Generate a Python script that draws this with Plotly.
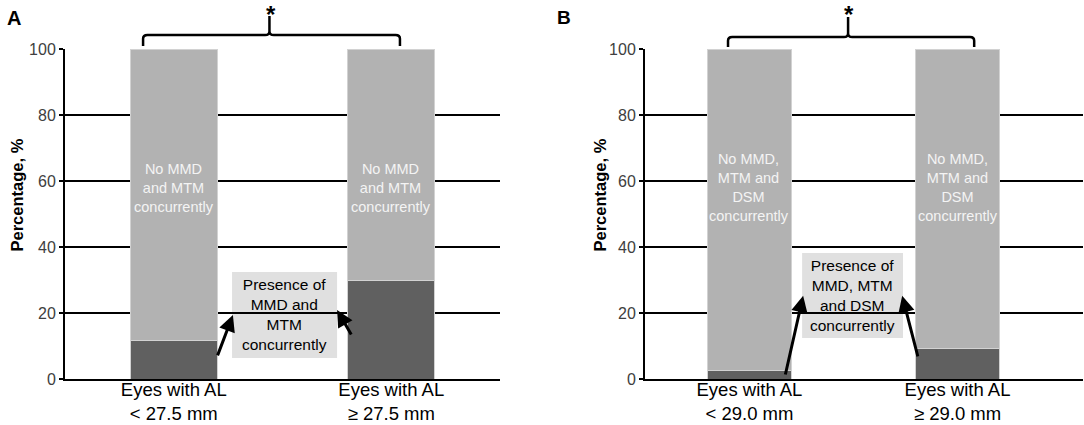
import plotly.graph_objects as go

# ---------------- data ----------------
categories_A = ["Eyes with AL<br>< 27.5 mm", "Eyes with AL<br>≥ 27.5 mm"]
presence_A = [11.8, 29.9]
absence_A = [88.2, 70.1]

categories_B = ["Eyes with AL<br>< 29.0 mm", "Eyes with AL<br>≥ 29.0 mm"]
presence_B = [2.7, 9.1]
absence_B = [97.3, 90.9]

bar_text_A = "No MMD<br>and MTM<br>concurrently"
bar_text_B = "No MMD,<br>MTM and<br>DSM<br>concurrently"
box_text_A = "Presence of<br>MMD and<br>MTM<br>concurrently"
box_text_B = "Presence of<br>MMD, MTM<br>and DSM<br>concurrently"
y_ticks = [0, 20, 40, 60, 80, 100]

FONT = "Arial, Liberation Sans, sans-serif"
DARK = "#606060"
LIGHT = "#b2b2b2"
EDGE = "#d2d2d2"

W, H = 1084, 425
fig = go.Figure()

for cats, pres, absn, xa, ya in [
    (categories_A, presence_A, absence_A, "x", "y"),
    (categories_B, presence_B, absence_B, "x2", "y2"),
]:
    fig.add_trace(go.Bar(x=cats, y=pres, marker=dict(color=DARK, line=dict(color=EDGE, width=1)),
                         width=0.4, xaxis=xa, yaxis=ya, showlegend=False, hoverinfo="skip"))
    fig.add_trace(go.Bar(x=cats, y=absn, marker=dict(color=LIGHT, line=dict(color=EDGE, width=1)),
                         width=0.4, xaxis=xa, yaxis=ya, showlegend=False, hoverinfo="skip"))

ydom = [1 - 379 / H, 1 - 49 / H]
axis_common = dict(showgrid=False, showline=True, linecolor="black", linewidth=2,
                   ticks="", tickfont=dict(family=FONT, size=18.5, color="black"),
                   ticklabelstandoff=-7,
                   type="category", fixedrange=True, automargin=False)
yaxis_common = dict(range=[0, 100], tickvals=y_ticks, showgrid=True, gridcolor="black",
                    gridwidth=2, zeroline=False, showline=True, linecolor="black", linewidth=2,
                    ticks="outside", ticklen=4, tickwidth=2, tickcolor="black",
                    tickfont=dict(family=FONT, size=16, color="#404040"), fixedrange=True,
                    automargin=False)

fig.update_layout(
    width=W, height=H, margin=dict(l=0, r=0, t=0, b=0, autoexpand=False),
    paper_bgcolor="white", plot_bgcolor="white", barmode="stack",
    xaxis=dict(domain=[65 / W, 500 / W], range=[-0.5, 1.5], anchor="y", **axis_common),
    yaxis=dict(domain=ydom, anchor="x", **yaxis_common),
    xaxis2=dict(domain=[645 / W, 1083 / W], range=[-0.502, 1.603], anchor="y2", **axis_common),
    yaxis2=dict(domain=ydom, anchor="x2", **yaxis_common),
)

shapes = []
annotations = []

# boxes for "Presence of ..." (below gridlines)
for xr, yr, x0, x1, y0, y1 in [("x", "y", 0.268, 0.751, 6.4, 32.4), ("x2", "y2", 0.253, 0.738, 12.4, 38.2)]:
    shapes.append(dict(type="rect", xref=xr, yref=yr, x0=x0, x1=x1, y0=y0, y1=y1,
                       fillcolor="#e0e0e0", line=dict(width=0), layer="below"))

# box texts
annotations.append(dict(xref="x", yref="y", x=0.51, y=19.4, text=box_text_A, showarrow=False,
                        font=dict(family=FONT, size=15.5, color="black")))
annotations.append(dict(xref="x2", yref="y2", x=0.495, y=25.3, text=box_text_B, showarrow=False,
                        font=dict(family=FONT, size=15.5, color="black")))

# bar texts
for xr, yr, txt in [("x", "y", bar_text_A), ("x2", "y2", bar_text_B)]:
    for i in range(2):
        annotations.append(dict(xref=xr, yref=yr, x=i, y=58, text=txt, showarrow=False,
                                font=dict(family=FONT, size=14.5, color="#f4f4f4")))

# arrows
for xr, yr, tip, tail in [
    ("x", "y", (0.272, 19.4), (0.199, 6.7)),
    ("x", "y", (0.751, 20.9), (0.820, 13.0)),
    ("x2", "y2", (0.258, 25.2), (0.171, 0.9)),
    ("x2", "y2", (0.734, 25.2), (0.811, 6.4)),
]:
    annotations.append(dict(xref=xr, yref=yr, axref=xr, ayref=yr, x=tip[0], y=tip[1],
                            ax=tail[0], ay=tail[1], text="", showarrow=True,
                            arrowhead=2, arrowsize=1.1, arrowwidth=3, arrowcolor="black"))

# brackets
def bracket(xr, x0, xm, x1, yb, yh, yt, dx, dy):
    path = (f"M {x0},{yb} L {x0},{yh - dy} Q {x0},{yh} {x0 + dx},{yh} "
            f"L {xm - dx},{yh} Q {xm},{yh} {xm},{yh + dy} L {xm},{yt} "
            f"M {xm},{yh + dy} Q {xm},{yh} {xm + dx},{yh} "
            f"L {x1 - dx},{yh} Q {x1},{yh} {x1},{yh - dy} L {x1},{yb}")
    return dict(type="path", xref=xr, yref="paper", path=path, line=dict(color="black", width=2.5))

brackets = [("x", -0.141, 0.44, 1.040, 46, 35, 16), ("x2", -0.103, 0.474, 1.080, 47, 37, 17)]
for xr, x0, xm, x1, yb, yh, yt in brackets:
    shapes.append(bracket(xr, x0, xm, x1, 1 - yb / H, 1 - yh / H, 1 - yt / H, 0.02, 0.009))
    # asterisk above the bracket centre
    annotations.append(dict(xref=xr, yref="paper", x=xm + 0.005, y=1, text="<b>*</b>",
                            showarrow=False, font=dict(family=FONT, size=24, color="black"),
                            yanchor="top", xanchor="center", borderpad=0))

# panel labels
annotations.append(dict(xref="paper", yref="paper", x=14 / W, y=1 - 18 / H, text="<b>A</b>",
                        showarrow=False, font=dict(family=FONT, size=20, color="black"),
                        xanchor="center", yanchor="middle"))
annotations.append(dict(xref="paper", yref="paper", x=564 / W, y=1 - 17 / H, text="<b>B</b>",
                        showarrow=False, font=dict(family=FONT, size=19, color="black"),
                        xanchor="center", yanchor="middle"))

# y-axis titles
for x in [17 / W, 600 / W]:
    annotations.append(dict(xref="paper", yref="paper", x=x, y=1 - 195.5 / H,
                            text="<b>Percentage, %</b>", textangle=-90, showarrow=False,
                            font=dict(family=FONT, size=16.5, color="black"),
                            xanchor="center", yanchor="middle"))

fig.update_layout(shapes=shapes, annotations=annotations)
fig.write_html("out.html", config={"displayModeBar": False},
               post_script="document.body.style.margin='0';document.body.style.overflow='hidden';")
